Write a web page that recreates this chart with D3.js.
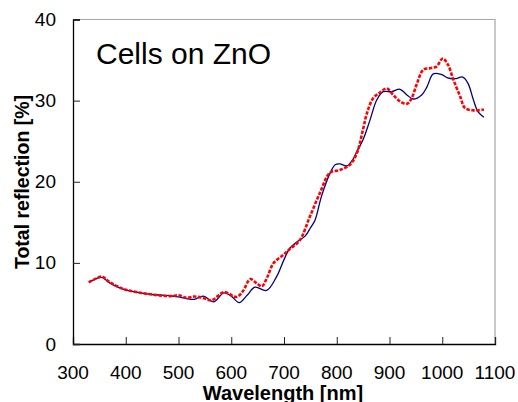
<!DOCTYPE html>
<html>
<head>
<meta charset="utf-8">
<script src="https://cdn.jsdelivr.net/npm/d3@7"></script>
<style>
  body { margin: 0; background: #fff; }
  svg text { font-family: "Liberation Sans", Arial, sans-serif; fill: #000; }
</style>
</head>
<body>
<svg id="chart" width="518" height="402"></svg>
<script>
// blue (solid) curve
const blueWl = [330, 345, 355, 370, 395, 420, 450, 485, 500, 515, 530, 547, 567, 586, 600, 615, 630, 645, 667, 686, 700,
  711, 725, 740, 750, 759, 771, 787, 797, 806, 819, 830, 838, 850, 863, 876, 888, 904, 920, 933, 945, 961, 971, 983,
  999, 1010, 1024, 1039, 1049, 1059, 1068, 1079];
const blueR = [7.6, 8.1, 8.2, 7.5, 6.75, 6.4, 6.1, 5.95, 5.8, 5.6, 5.5, 5.9, 5.2, 6.3, 5.9, 5.1, 6.0, 7.0, 6.6, 8.3, 10.4,
  11.8, 12.6, 13.3, 14.3, 15.3, 18.2, 21.0, 22.1, 22.2, 21.95, 22.7, 23.7, 25.2, 27.6, 30.1, 31.1, 31.1, 31.4, 30.7, 30.2, 30.7, 31.7, 33.3,
  33.2, 32.8, 32.7, 32.9, 32.1, 30.1, 28.6, 27.95];

// red (dotted) curve
const redWl = [330, 345, 355, 370, 395, 420, 450, 485, 500, 515, 530, 545, 563, 586, 610, 622, 636, 648, 658, 668, 680,
  699, 711, 730, 749, 768, 787, 806, 825, 838, 850, 857, 869, 882, 895, 907, 920, 933, 942, 952, 964, 977, 989,
  1001, 1011, 1021, 1034, 1043, 1059, 1079];
const redR = [7.6, 8.1, 8.3, 7.6, 6.8, 6.4, 6.1, 5.9, 6.0, 5.7, 5.85, 5.7, 5.4, 6.4, 5.8, 6.5, 8.0, 7.5, 7.1, 8.2, 9.95,
  11.0, 11.7, 12.8, 15.7, 18.6, 21.1, 21.45, 22.1, 23.5, 26.5, 28.4, 30.3, 31.0, 31.5, 30.7, 29.9, 29.6, 30.3, 32.1, 33.8, 34.0, 34.2,
  35.2, 34.4, 32.6, 30.5, 29.1, 28.8, 28.9];

const xTicks = [300, 400, 500, 600, 700, 800, 900, 1000, 1100];
const yTicks = [0, 10, 20, 30, 40];

const svg = d3.select('#chart');
const plotL = 73, plotR = 495, plotT = 19.5, plotB = 344;

const x = d3.scaleLinear().domain([300, 1100]).range([plotL, plotR]);
const y = d3.scaleLinear().domain([0, 40]).range([plotB, plotT]);

// frame: grey top/right
svg.append('path')
  .attr('d', `M${plotL},${plotT}H${plotR}V${plotB}`)
  .attr('fill', 'none').attr('stroke', '#a6a6a6').attr('stroke-width', 1.2);

// axes with inward ticks
const xAxis = svg.append('g').attr('transform', `translate(0,${plotB})`)
  .call(d3.axisTop(x).tickValues(xTicks).tickSize(7).tickFormat(''));
const yAxis = svg.append('g').attr('transform', `translate(${plotL},0)`)
  .call(d3.axisRight(y).tickValues(yTicks).tickSize(7).tickFormat(''));
[xAxis, yAxis].forEach(g => {
  g.select('.domain').attr('stroke', '#000').attr('stroke-width', 1.3);
  g.selectAll('.tick line').attr('stroke', '#222').attr('stroke-width', 1);
});

// tick labels
svg.selectAll('.xlab').data(xTicks).join('text')
  .attr('x', d => x(d)).attr('y', 379)
  .attr('text-anchor', 'middle').style('font-size', '19px')
  .text(d => d);
svg.selectAll('.ylab').data(yTicks).join('text')
  .attr('x', 56).attr('y', d => y(d) + 6.5)
  .attr('text-anchor', 'end').style('font-size', '19px')
  .text(d => d);

// axis titles
svg.append('text').attr('x', 283).attr('y', 400)
  .attr('text-anchor', 'middle').style('font-size', '20px').style('font-weight', 'bold')
  .text('Wavelength [nm]');
svg.append('text').attr('transform', 'translate(29,182) rotate(-90)')
  .attr('text-anchor', 'middle').style('font-size', '19.5px').style('font-weight', 'bold')
  .text('Total reflection [%]');

// annotation
svg.append('text').attr('x', 96).attr('y', 64)
  .style('font-size', '30px')
  .text('Cells on ZnO');

// curves
const line = d3.line()
  .x(d => x(d[0]))
  .y(d => y(d[1]))
  .curve(d3.curveCatmullRom.alpha(0.5));

svg.append('path')
  .datum(d3.zip(blueWl, blueR))
  .attr('d', line)
  .attr('fill', 'none').attr('stroke', '#000080').attr('stroke-width', 1.3);

svg.append('path')
  .datum(d3.zip(redWl, redR))
  .attr('d', line)
  .attr('fill', 'none').attr('stroke', '#ff0000').attr('stroke-width', 2.6)
  .attr('stroke-dasharray', '3.5,1.5');
</script>
</body>
</html>
